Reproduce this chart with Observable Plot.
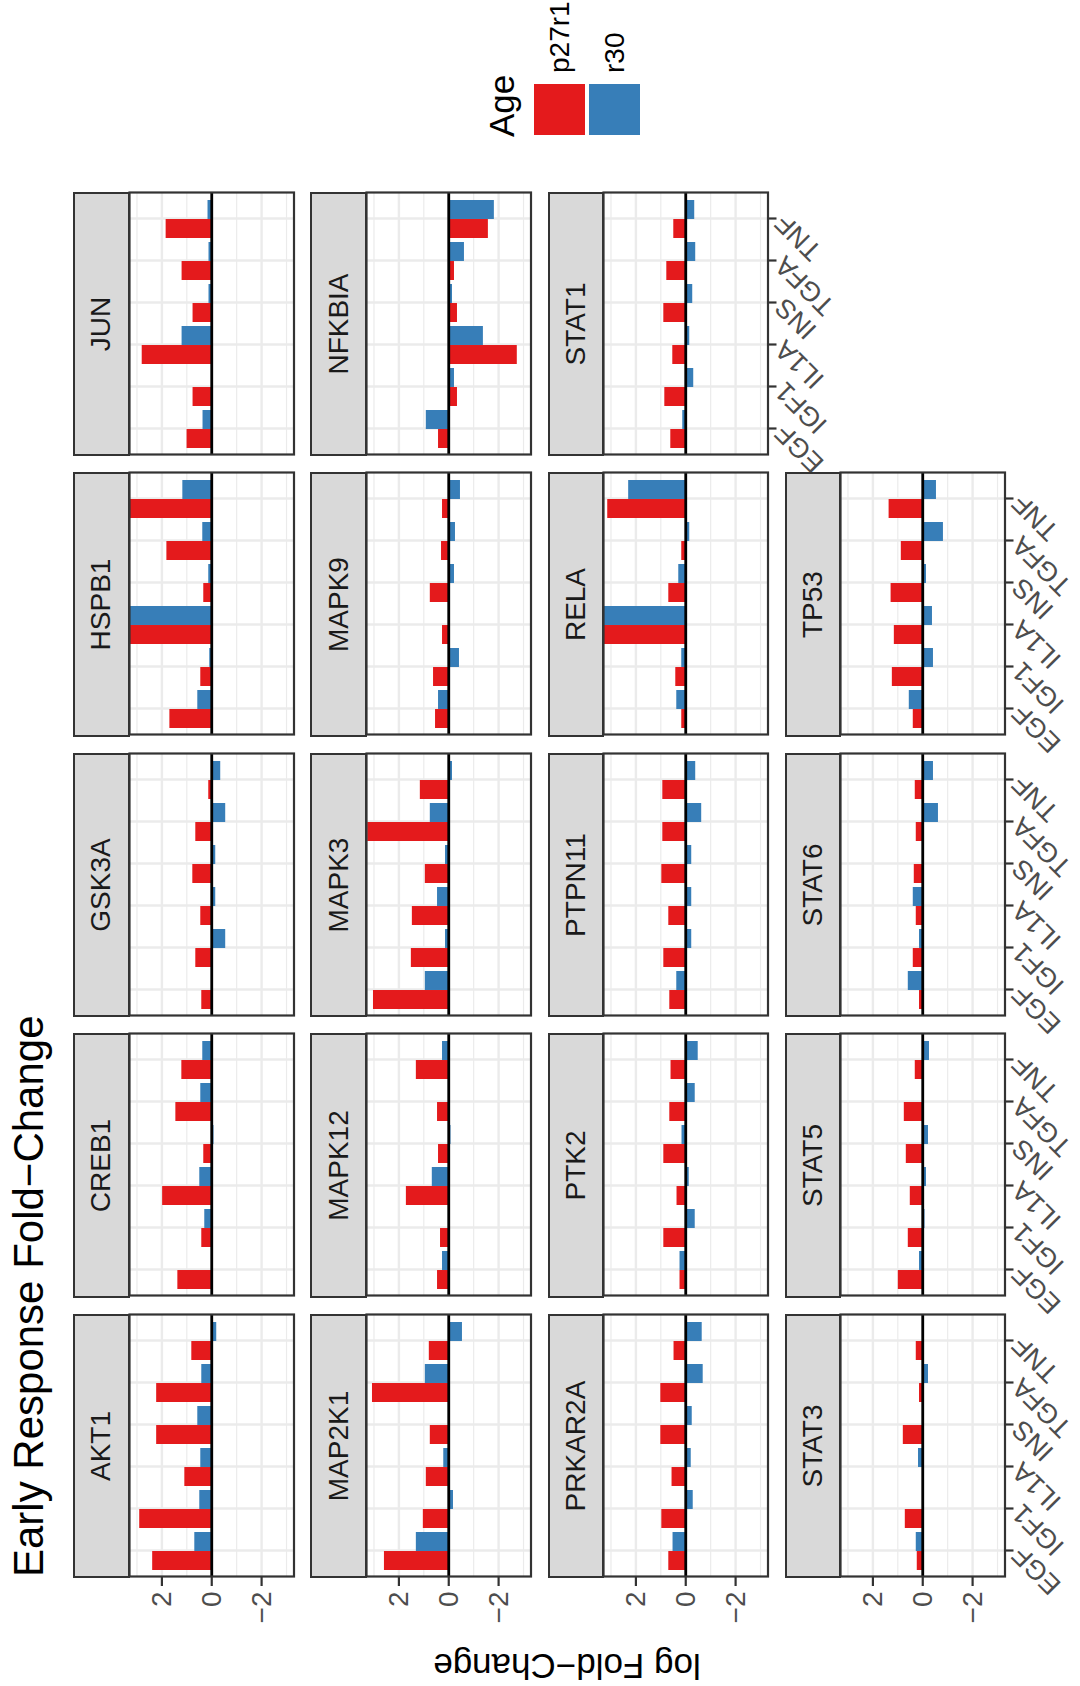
<!DOCTYPE html>
<html>
<head>
<meta charset="utf-8">
<script src="https://cdn.jsdelivr.net/npm/d3@7"></script>
<script src="https://cdn.jsdelivr.net/npm/@observablehq/plot@0.6"></script>
<style>
  html, body { margin: 0; padding: 0; background: #ffffff; }
  body { width: 1080px; height: 1686px; overflow: hidden; position: relative;
         font-family: "Liberation Sans", Arial, Helvetica, sans-serif; }
  /* the figure is laid out landscape and turned a quarter turn counter-clockwise */
  #stage { position: absolute; left: 0; top: 0; width: 1686px; height: 1080px;
           transform-origin: 0 0; transform: translate(0px, 1686px) rotate(-90deg); }
  .txt { position: absolute; white-space: nowrap; line-height: 1; }
  .strip { position: absolute; box-sizing: border-box; background: #D9D9D9;
           border: 2.2px solid #333333; display: flex; align-items: center;
           justify-content: center; font-size: 28px; line-height: 1; color: #1A1A1A; }
  .panel { position: absolute; }
  .key { position: absolute; }
</style>
</head>
<body>
<div id="stage"></div>
<script>
// ---- data -------------------------------------------------------------
const treatments = ["EGF", "IGF1", "IL1A", "INS", "TGFA", "TNF"];
const ages = ["p27r1", "r30"];
const ageColors = ["#E41A1C", "#377EB8"];
const genes = ["AKT1", "CREB1", "GSK3A", "HSPB1", "JUN",
               "MAP2K1", "MAPK12", "MAPK3", "MAPK9", "NFKBIA",
               "PRKAR2A", "PTK2", "PTPN11", "RELA", "STAT1",
               "STAT3", "STAT5", "STAT6", "TP53"];

// log fold-change per gene, in treatment order
const p27r1Values = [
  [2.37, 2.89, 1.08, 2.21, 2.21, 0.80],   // AKT1
  [1.36, 0.40, 1.97, 0.32, 1.44, 1.20],   // CREB1
  [0.40, 0.64, 0.44, 0.76, 0.64, 0.12],   // GSK3A
  [1.68, 0.44, 4.60, 0.32, 1.80, 3.90],   // HSPB1
  [0.99, 0.75, 2.79, 0.75, 1.19, 1.83],   // JUN
  [2.58, 1.02, 0.90, 0.74, 3.06, 0.78],   // MAP2K1
  [0.45, 0.33, 1.70, 0.41, 0.45, 1.30],   // MAPK12
  [3.02, 1.50, 1.46, 0.94, 3.25, 1.14],   // MAPK3
  [0.53, 0.61, 0.25, 0.74, 0.29, 0.25],   // MAPK9
  [0.41, -0.35, -2.75, -0.35, -0.23, -1.59], // NFKBIA
  [0.68, 0.96, 0.55, 1.00, 1.00, 0.47],   // PRKAR2A
  [0.23, 0.88, 0.35, 0.88, 0.64, 0.59],   // PTK2
  [0.64, 0.88, 0.68, 0.96, 0.92, 0.92],   // PTPN11
  [0.16, 0.40, 3.90, 0.68, 0.16, 3.13],   // RELA
  [0.60, 0.84, 0.52, 0.88, 0.76, 0.48],   // STAT1
  [0.22, 0.70, 0.00, 0.78, 0.13, 0.26],   // STAT3
  [0.98, 0.58, 0.50, 0.66, 0.74, 0.30],   // STAT5
  [0.13, 0.38, 0.26, 0.34, 0.26, 0.30],   // STAT6
  [0.38, 1.22, 1.14, 1.27, 0.86, 1.35]    // TP53
];
const r30Values = [
  [0.68, 0.48, 0.44, 0.56, 0.40, -0.20],  // AKT1
  [0.00, 0.28, 0.48, -0.09, 0.44, 0.36],  // CREB1
  [0.00, -0.56, -0.16, -0.16, -0.56, -0.36], // GSK3A
  [0.56, 0.08, 4.20, 0.12, 0.36, 1.16],   // HSPB1
  [0.35, 0.00, 1.19, 0.11, 0.11, 0.15],   // JUN
  [1.30, -0.19, 0.20, 0.00, 0.94, -0.55], // MAP2K1
  [0.25, 0.00, 0.66, -0.09, 0.00, 0.25],  // MAPK12
  [0.94, 0.13, 0.45, 0.13, 0.74, -0.15],  // MAPK3
  [0.41, -0.43, 0.00, -0.23, -0.27, -0.47], // MAPK9
  [0.90, -0.23, -1.39, -0.15, -0.63, -1.83], // NFKBIA
  [0.51, -0.30, -0.22, -0.26, -0.70, -0.66], // PRKAR2A
  [0.23, -0.38, -0.14, 0.15, -0.38, -0.50], // PTK2
  [0.36, -0.24, -0.24, -0.24, -0.64, -0.40], // PTPN11
  [0.36, 0.16, 3.60, 0.28, -0.16, 2.29],  // RELA
  [0.12, -0.32, -0.16, -0.28, -0.40, -0.36], // STAT1
  [0.26, -0.05, 0.17, -0.05, -0.23, -0.05], // STAT3
  [0.13, -0.09, -0.15, -0.23, 0.00, -0.27], // STAT5
  [0.58, 0.13, 0.38, 0.00, -0.63, -0.43], // STAT6
  [0.54, -0.43, -0.39, -0.15, -0.83, -0.55] // TP53
];

const yTicks = [-2, 0, 2];
const yMinorTicks = [-3, -1, 1, 3];
const yLimits = [-3.3, 3.3];

// ---- layout (landscape coordinates) -----------------------------------
const NCOL = 5;
const PANEL_W = 262, PANEL_H = 164.5, STRIP_H = 54.5;
const colX = i => 109 + i * 280.5;
const rowY = j => 74 + j * 237.3;
const ML = 80, MR = 12, MB = 110;
const FONT = '"Liberation Sans", Arial, Helvetica, sans-serif';
const GRID = "#EBEBEB";
const INK = "#333333";

const stage = document.getElementById("stage");

function addText(str, left, top, size, extra = {}) {
  const el = document.createElement("div");
  el.className = "txt";
  el.textContent = str;
  Object.assign(el.style, {left: left + "px", top: top + "px", fontSize: size + "px"}, extra);
  stage.appendChild(el);
  return el;
}

// title
addText("Early Response Fold\u2212Change", 109, 44 - 0.8465 * 42, 42, {color: "#000"});

// y axis title, centred on the panel block
addText("log Fold\u2212Change", 19.5, 567, 35, {
  color: "#000", transform: "translate(-50%, -50%) rotate(-90deg)"
});

const fmt = d => d < 0 ? "\u2212" + Math.abs(d) : String(d);
const step = PANEL_W / (treatments.length - 0.1 + 2 * 0.15);
const half = step * 0.45;

genes.forEach((gene, g) => {
  const col = g % NCOL, row = Math.floor(g / NCOL);
  const x0 = colX(col), y0 = rowY(row);
  const showY = col === 0;
  // bottom panel of each column carries the treatment axis
  const lastRowInCol = Math.floor((genes.length - 1 - col) / NCOL);
  const showX = row === lastRowInCol;

  const rows = treatments.flatMap((t, i) => [
    {treatment: t, age: ages[0], value: p27r1Values[g][i]},
    {treatment: t, age: ages[1], value: r30Values[g][i]}
  ]);

  const marks = [
    Plot.gridY(yMinorTicks, {stroke: GRID, strokeOpacity: 1, strokeWidth: 1.2}),
    Plot.gridY(yTicks, {stroke: GRID, strokeOpacity: 1, strokeWidth: 2.4}),
    Plot.gridX(treatments, {stroke: GRID, strokeOpacity: 1, strokeWidth: 2.4}),
    Plot.barY(rows.filter(d => d.age === ages[0]), {x: "treatment", y: "value", fill: "age", insetRight: half}),
    Plot.barY(rows.filter(d => d.age === ages[1]), {x: "treatment", y: "value", fill: "age", insetLeft: half}),
    Plot.ruleY([0], {stroke: "#000", strokeWidth: 2.8}),
    Plot.frame({stroke: INK, strokeWidth: 2.2})
  ];
  if (showY) marks.push(Plot.axisY(yTicks, {
    tickSize: 9, tickPadding: 6, stroke: INK, strokeWidth: 2.2, fill: "#4D4D4D",
    tickFormat: fmt, label: null
  }));
  if (showX) marks.push(Plot.axisX(treatments, {
    tickSize: 9, tickPadding: 3, tickRotate: -45, stroke: INK, strokeWidth: 2.2,
    fill: "#4D4D4D", fontSize: 27, label: null
  }));

  const svg = Plot.plot({
    width: ML + PANEL_W + MR,
    height: PANEL_H + MB,
    marginLeft: ML, marginRight: MR, marginTop: 0, marginBottom: MB,
    style: {background: "transparent", overflow: "visible", font: `28px ${FONT}`},
    x: {type: "band", domain: treatments, paddingInner: 0.1, paddingOuter: 0.15, axis: null},
    y: {domain: yLimits, clamp: true, axis: null},
    color: {domain: ages, range: ageColors},
    marks
  });
  svg.classList.add("panel");
  svg.style.left = (x0 - ML) + "px";
  svg.style.top = (y0 + STRIP_H) + "px";
  stage.appendChild(svg);

  const strip = document.createElement("div");
  strip.className = "strip";
  strip.textContent = gene;
  Object.assign(strip.style, {
    left: (x0 - 1.1) + "px", top: (y0 - 1.1) + "px",
    width: (PANEL_W + 2.2) + "px", height: (STRIP_H + 2.2) + "px"
  });
  stage.appendChild(strip);
});

// legend
const LX = 1551, KEY = 51;
addText("Age", LX - 2, 514 - 0.8465 * 35, 35, {color: "#000"});
ages.forEach((a, i) => {
  const top = 534 + i * (KEY + 4);
  const k = document.createElement("div");
  k.className = "key";
  Object.assign(k.style, {left: LX + "px", top: top + "px", width: KEY + "px", height: KEY + "px", background: ageColors[i]});
  stage.appendChild(k);
  addText(a, LX + KEY + 11, top + KEY / 2 - 0.4885 * 28, 28, {color: "#000"});
});
</script>
</body>
</html>
